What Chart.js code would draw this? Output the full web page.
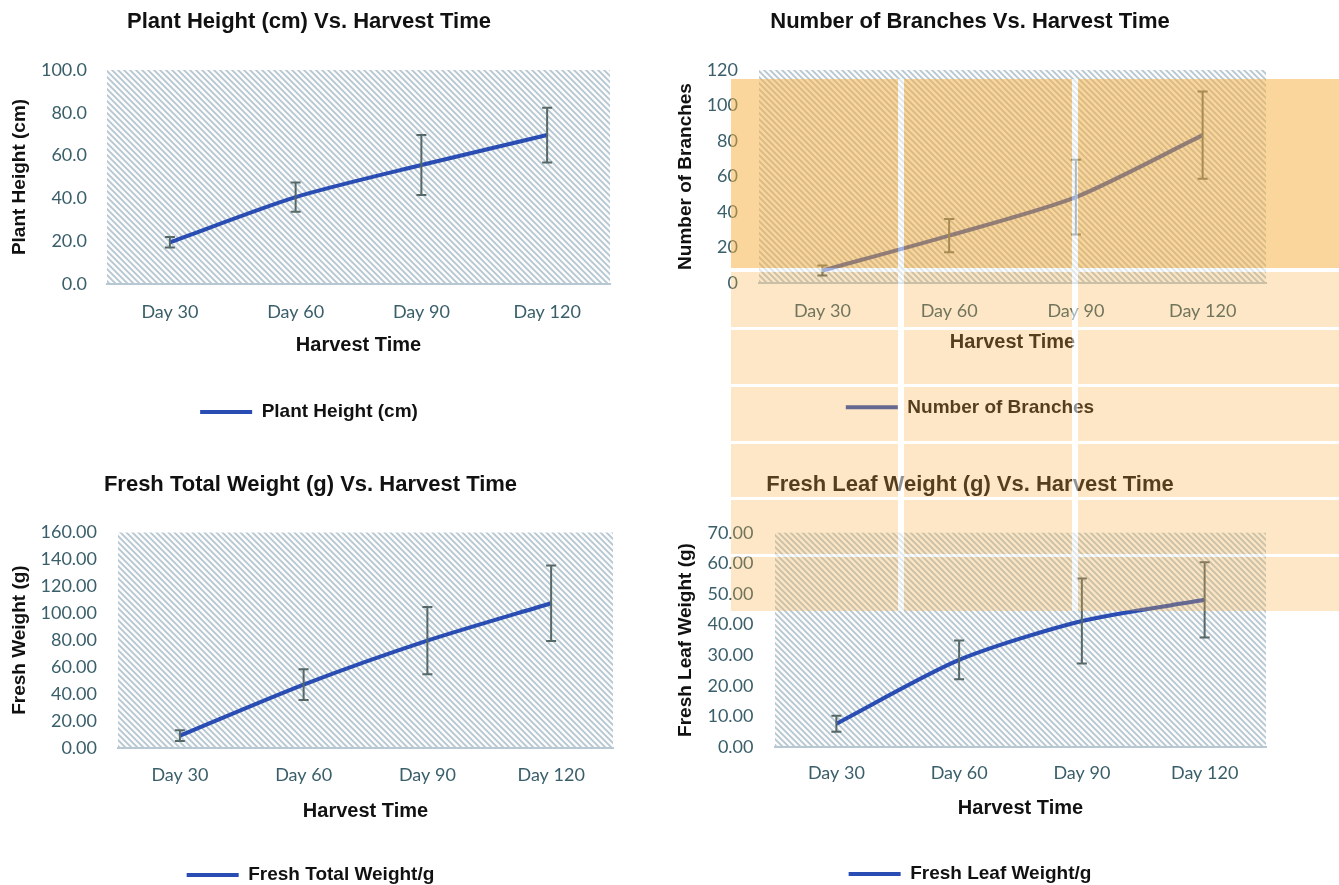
<!DOCTYPE html>
<html><head><meta charset="utf-8">
<script src="https://cdn.jsdelivr.net/npm/chart.js@4.4.1/dist/chart.umd.min.js"></script>
<style>
html,body{margin:0;padding:0;background:#fff;overflow:hidden;width:1339px;height:885px;position:relative;}
canvas{position:absolute;}
.ov{position:absolute;pointer-events:none;z-index:5;}
.dk{background:rgba(247,173,57,0.5);}
.lt{background:rgba(247,173,57,0.29);}
.gp{background:rgba(255,255,255,0.55);}
</style></head><body>
<canvas id="c1" width="624" height="442" style="left:0px;top:0px"></canvas>
<canvas id="c2" width="606" height="442" style="left:670px;top:0px"></canvas>
<canvas id="c3" width="627" height="460" style="left:0px;top:442px"></canvas>
<canvas id="c4" width="606" height="460" style="left:670px;top:442px"></canvas>

<!-- decorative tinted overlay present in the reference image -->
<div class="ov dk" style="left:731px;top:79px;width:167px;height:189px"></div>
<div class="ov dk" style="left:904px;top:79px;width:168px;height:189px"></div>
<div class="ov dk" style="left:1078px;top:79px;width:261px;height:189px"></div>
<div id="ovRows"></div>

<script>
// ---------- data ----------
const harvestDays = ['Day 30', 'Day 60', 'Day 90', 'Day 120'];

const plantHeight    = [19.5, 40.6, 55.6, 69.6];
const plantHeightErr = [2.5, 6.8, 14.0, 12.8];

const branches    = [7.0, 26.7, 48.4, 83.3];
const branchesErr = [2.8, 9.4, 21.1, 24.6];

const totalWeight    = [8.9, 46.9, 79.6, 107.4];
const totalWeightErr = [4.0, 11.4, 25.0, 28.0];

const leafWeight    = [7.7, 28.5, 41.2, 48.1];
const leafWeightErr = [2.6, 6.3, 13.9, 12.3];

const heightTicks = ['0.0', '20.0', '40.0', '60.0', '80.0', '100.0'];
const branchTicks = ['0', '20', '40', '60', '80', '100', '120'];
const totalTicks  = ['0.00', '20.00', '40.00', '60.00', '80.00', '100.00', '120.00', '140.00', '160.00'];
const leafTicks   = ['0.00', '10.00', '20.00', '30.00', '40.00', '50.00', '60.00', '70.00'];

// ---------- overlay rows (decorative) ----------
(function(){
  const cols = [[731, 898], [904, 1072], [1078, 1339]];
  const rows = [[272, 327], [330, 384], [387, 441], [444, 497], [500, 554], [557, 611]];
  let html = '';
  rows.forEach(r => cols.forEach(c => {
    html += `<div class="ov lt" style="left:${c[0]}px;top:${r[0]}px;width:${c[1]-c[0]}px;height:${r[1]-r[0]}px"></div>`;
  }));
  html += `<div class="ov gp" style="left:898px;top:79px;width:6px;height:532px"></div>`;
  html += `<div class="ov gp" style="left:1072px;top:79px;width:6px;height:532px"></div>`;
  [[268,272],[327,330],[384,387],[441,444],[497,500],[554,557]].forEach(g => {
    html += `<div class="ov gp" style="left:731px;top:${g[0]}px;width:167px;height:${g[1]-g[0]}px"></div>`;
    html += `<div class="ov gp" style="left:904px;top:${g[0]}px;width:168px;height:${g[1]-g[0]}px"></div>`;
    html += `<div class="ov gp" style="left:1078px;top:${g[0]}px;width:261px;height:${g[1]-g[0]}px"></div>`;
  });
  document.getElementById('ovRows').innerHTML = html;
})();

// ---------- plugins ----------
function makePattern(ctx) {
  const p = document.createElement('canvas');
  p.width = 6; p.height = 6;
  const c = p.getContext('2d');
  c.fillStyle = '#fdfbfa';
  c.fillRect(0, 0, 6, 6);
  c.strokeStyle = '#b3c7d3';
  c.lineWidth = 1.8;
  c.beginPath();
  c.moveTo(-1, -1); c.lineTo(7, 7);
  c.moveTo(-1, 5); c.lineTo(1, 7);
  c.moveTo(5, -1); c.lineTo(7, 1);
  c.stroke();
  return ctx.createPattern(p, 'repeat');
}

const hatchPlugin = {
  id: 'hatch',
  beforeDraw(chart) {
    const {ctx, chartArea: a} = chart;
    ctx.save();
    ctx.fillStyle = makePattern(ctx);
    ctx.fillRect(a.left, a.top, a.right - a.left, a.bottom - a.top);
    ctx.restore();
  }
};

const errorBarPlugin = {
  id: 'errbars',
  afterDatasetsDraw(chart, args, opts) {
    const {ctx} = chart;
    const xs = chart.scales.x, ys = chart.scales.y;
    const ds = chart.data.datasets[0];
    const errs = opts.errors || [];
    ctx.save();
    ctx.strokeStyle = '#566868';
    ctx.lineWidth = 2;
    ds.data.forEach((v, i) => {
      const e = errs[i];
      if (e == null) return;
      const x = xs.getPixelForValue(i);
      const yt = ys.getPixelForValue(v + e);
      const yb = ys.getPixelForValue(v - e);
      ctx.beginPath();
      ctx.moveTo(x, yt); ctx.lineTo(x, yb);
      ctx.moveTo(x - 5, yt); ctx.lineTo(x + 5, yt);
      ctx.moveTo(x - 5, yb); ctx.lineTo(x + 5, yb);
      ctx.stroke();
    });
    ctx.restore();
  }
};

// ---------- chart factory ----------
function build(id, s) {
  const tickFont = {family: 'Lato', size: 18};
  new Chart(document.getElementById(id), {
    type: 'line',
    data: {
      labels: harvestDays,
      datasets: [{
        label: s.legend,
        data: s.values,
        borderColor: '#2a4db3',
        backgroundColor: '#2a4db3',
        borderWidth: 4,
        pointRadius: 0,
        pointHoverRadius: 0,
        tension: 0.25,
        fill: false
      }]
    },
    options: {
      responsive: false,
      animation: false,
      events: [],
      layout: {padding: s.pad},
      plugins: {
        errbars: {errors: s.errors},
        title: {
          display: true,
          text: s.title,
          color: '#111111',
          font: {family: 'Liberation Sans', weight: 'bold', size: 22},
          padding: {top: 0, bottom: s.titleGap}
        },
        legend: {
          display: true,
          position: 'bottom',
          labels: {
            usePointStyle: true,
            pointStyle: 'line',
            pointStyleWidth: 52,
            padding: s.legendPad,
            color: '#111111',
            font: {family: 'Liberation Sans', weight: 'bold', size: 19}
          }
        },
        tooltip: {enabled: false}
      },
      scales: {
        x: {
          offset: true,
          grid: {display: false, drawTicks: false},
          border: {display: true, color: '#b7c8d2', width: 2},
          ticks: {color: '#3a5f6a', font: tickFont, padding: s.xTickPad, maxRotation: 0},
          title: {
            display: true, text: 'Harvest Time', color: '#111111',
            font: {family: 'Liberation Sans', weight: 'bold', size: 20},
            padding: {top: 0, bottom: 0}
          },
          afterFit(scale) { scale.height = s.xH; }
        },
        y: {
          min: s.min, max: s.max,
          grid: {display: false, drawTicks: false},
          border: {display: false},
          ticks: {
            stepSize: s.step,
            color: '#3a5f6a',
            font: tickFont,
            padding: s.yTickPad,
            callback: (v, i) => s.ticks[i]
          },
          title: {
            display: true, text: s.yTitle, color: '#111111',
            font: {family: 'Liberation Sans', weight: 'bold', size: 19},
            padding: {top: 0, bottom: 0}
          },
          afterFit(scale) { scale.width = s.yW; }
        }
      }
    },
    plugins: [hatchPlugin, errorBarPlugin]
  });
}

build('c1', {
  title: 'Plant Height (cm) Vs. Harvest Time', legend: 'Plant Height (cm)', yTitle: 'Plant Height (cm)',
  values: plantHeight, errors: plantHeightErr, ticks: heightTicks, min: 0, max: 100, step: 20,
  pad: {left: 8, right: 14, top: 9, bottom: 10.5}, titleGap: 34.6, yW: 99, yTickPad: 20,
  xTickPad: 17.2, xH: 73, legendPad: 45.5
});
build('c2', {
  title: 'Number of Branches Vs. Harvest Time', legend: 'Number of Branches', yTitle: 'Number of Branches',
  values: branches, errors: branchesErr, ticks: branchTicks, min: 0, max: 120, step: 20,
  pad: {left: 4, right: 10, top: 8.5, bottom: 15.2}, titleGap: 35.1, yW: 85, yTickPad: 21,
  xTickPad: 16.9, xH: 71.7, legendPad: 43.1
});
build('c3', {
  title: 'Fresh Total Weight (g) Vs. Harvest Time', legend: 'Fresh Total Weight/g', yTitle: 'Fresh Weight (g)',
  values: totalWeight, errors: totalWeightErr, ticks: totalTicks, min: 0, max: 160, step: 20,
  pad: {left: 8, right: 14, top: 30, bottom: 7.5}, titleGap: 34.1, yW: 110, yTickPad: 21,
  xTickPad: 16.7, xH: 76, legendPad: 41.8
});
build('c4', {
  title: 'Fresh Leaf Weight (g) Vs. Harvest Time', legend: 'Fresh Leaf Weight/g', yTitle: 'Fresh Leaf Weight (g)',
  values: leafWeight, errors: leafWeightErr, ticks: leafTicks, min: 0, max: 70, step: 10,
  pad: {left: 4, right: 10, top: 30, bottom: 8.5}, titleGap: 34.3, yW: 101, yTickPad: 21.5,
  xTickPad: 15.2, xH: 73, legendPad: 44.2
});
</script>
</body></html>
